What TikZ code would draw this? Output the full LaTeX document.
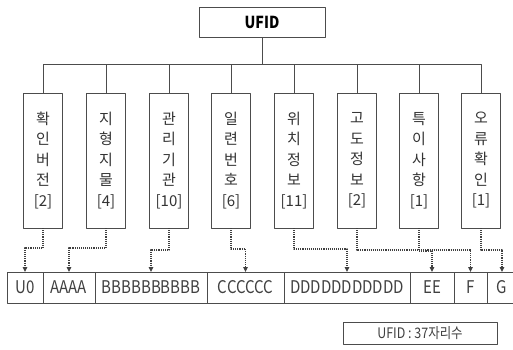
\documentclass[tikz,border=0pt]{standalone}
\usepackage{fontspec}
\setmainfont{Noto Sans CJK KR}
\newfontfamily\narrowfont{Noto Sans CJK KR}[FakeStretch=0.86]
\usetikzlibrary{positioning,arrows.meta}

\begin{document}
\begin{tikzpicture}[x=1pt,y=-1pt,line join=round,>={Triangle[length=5pt,width=4.5pt]},
	box/.style={draw=black!70,line width=0.9pt,inner sep=0pt,outer sep=0pt},
	field/.style={box,minimum width=39pt,minimum height=135pt,align=center,text=black!80,font=\fontsize{15}{20.5}\selectfont},
	cell/.style={box,minimum height=31pt,text=black!75,font=\narrowfont\fontsize{17.5}{17.5}\selectfont},
	link/.style={->,densely dotted,line width=1.1pt,black!75}]
	\useasboundingbox (0,0) rectangle (513,349);
	\node[box,minimum width=126pt,minimum height=30pt,font=\narrowfont\bfseries\fontsize{16.5}{16.5}\selectfont] (ufid) at (262,22) {UFID};
	% fields
	\foreach \i/\x/\t in {1/43/{확\\인\\버\\전\\{[2]}},2/106/{지\\형\\지\\물\\{[4]}},3/169/{관\\리\\기\\관\\{[10]}},4/231/{일\\련\\번\\호\\{[6]}},
		5/294/{위\\치\\정\\보\\{[11]}},6/357/{고\\도\\정\\보\\{[2]}},7/419/{특\\이\\사\\항\\{[1]}},8/481/{오\\류\\확\\인\\{[1]}}}{
		\node[field] (c\i) at (\x,160.5) {\t};
		\draw[line width=0.9pt,black!70] (ufid.south) -- ++(0,27) -| (c\i.north);
	}
	% code row
	\node[cell,minimum width=36pt] (r1) at (25,287.5) {U0};
	\node[cell,minimum width=52pt,right=0pt of r1] (r2) {AAAA};
	\node[cell,minimum width=112pt,right=0pt of r2] (r3) {BBBBBBBBBB};
	\node[cell,minimum width=77pt,right=0pt of r3] (r4) {CCCCCC};
	\node[cell,minimum width=126pt,right=0pt of r4] (r5) {DDDDDDDDDDD};
	\node[cell,minimum width=44pt,right=0pt of r5] (r6) {EE};
	\node[cell,minimum width=33pt,right=0pt of r6] (r7) {F};
	\node[cell,minimum width=30pt,right=0pt of r7] (r8) {G};
	\draw[link] (c1.south) -- ++(0,20) -| (r1.north);
	\draw[link] (c2.south) -- ++(0,20) -| (r2.north);
	\draw[link] (c3.south) -- ++(0,22) -| (r3.north);
	\draw[link] (c4.south) -- ++(0,21) -| (r4.north);
	\draw[link] (c5.south) -- ++(0,21) -| (r5.north);
	\draw[link] (c6.south) -- ++(0,22) -| (r7.north);
	\draw[link] (c7.south) -- ++(0,23) -| (r6.north);
	\draw[link] (c8.south) -- ++(0,22) -| (r8.north);
	\node[cell,minimum width=154pt,minimum height=22pt,font=\narrowfont\fontsize{14.5}{14.5}\selectfont] (note) at (420,333) {UFID : 37자리수};
\end{tikzpicture}
\end{document}
